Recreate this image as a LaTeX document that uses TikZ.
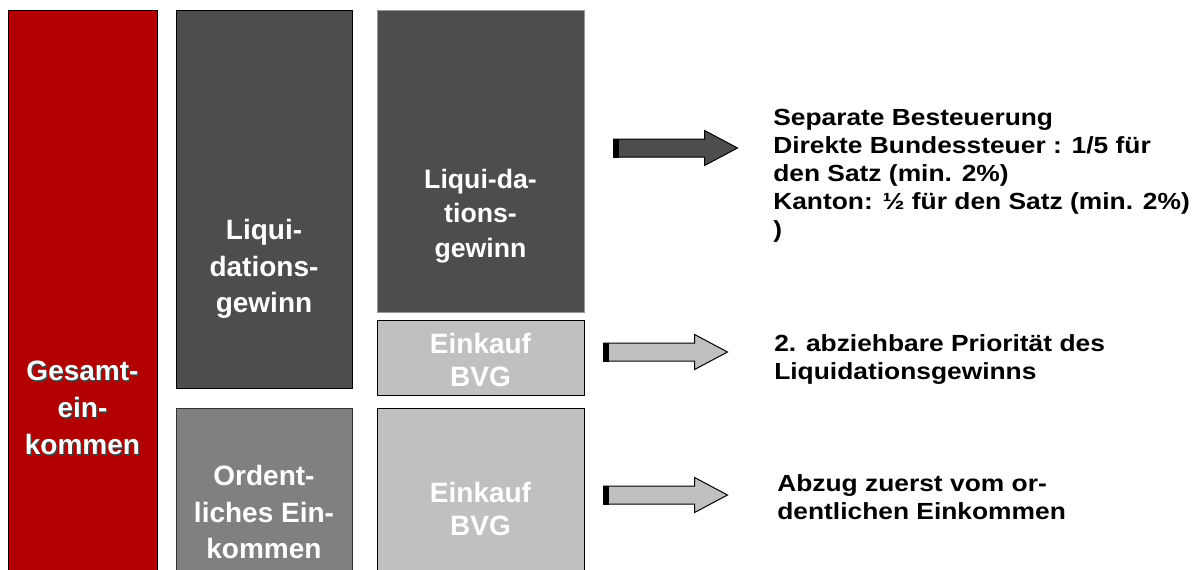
\documentclass[tikz,border=0pt]{standalone}
\usepackage{fontspec}
\setmainfont{Liberation Sans}
\newfontfamily\sidefont[FakeStretch=1.13]{Liberation Sans}
\usetikzlibrary{shapes.arrows}
\definecolor{gesamtred}{HTML}{B20000}
\definecolor{darkblock}{HTML}{4D4D4D}
\definecolor{midblock}{HTML}{808080}
\definecolor{lightblock}{HTML}{C0C0C0}

\begin{document}
\begin{tikzpicture}[x=0.75pt, y=-0.75pt,
    block/.style={rectangle, draw=black, line width=1pt, inner sep=0pt, anchor=north west},
    blocktext/.style={text=white, font=\bfseries\fontsize{21}{27.5}\selectfont, align=center},
    sidetext/.style={font=\sidefont\bfseries\fontsize{17.5}{21}\selectfont, align=left, anchor=north west, inner sep=0pt},
    blockarrow/.style={single arrow, draw=black, line width=0.75pt, inner xsep=0pt, inner ysep=6.375pt, anchor=tail,
      minimum height=93pt, single arrow head extend=6.375pt, single arrow tip angle=56}]

      \useasboundingbox (0,0) rectangle (1197,569);

      % columns
      \node[block, fill=gesamtred, minimum width=111.75pt, minimum height=427.5pt] (gesamt) at (8,10) {};
      \node[block, fill=darkblock, minimum width=132pt, minimum height=283.5pt] (liqA) at (176,10) {};
      \node[block, fill=midblock, draw=black!80, minimum width=132pt, minimum height=129pt] (ord) at (176,408) {};
      \node[block, fill=darkblock, draw=black!40, line width=0.75pt, minimum width=155.25pt, minimum height=226.5pt] (liqB) at (377,10) {};
      \node[block, fill=lightblock, minimum width=155.25pt, minimum height=56.25pt] (bvgA) at (377,320) {};
      \node[block, fill=lightblock, minimum width=155.25pt, minimum height=129pt] (bvgB) at (377,408) {};

      % labels in the columns
      \node[blocktext, text=black!75] at (84,410) {Gesamt-\\ein-\\kommen};
      \node[blocktext] (gesamttext) at (82.5,408) {Gesamt-\\ein-\\kommen};
      \node[blocktext] (liqAtext) at (264,269) {Liqui-\\dations-\\gewinn};
      \node[blocktext] (ordtext) at (264,512) {Ordent-\\liches Ein-\\kommen};
      \node[blocktext, font=\bfseries\fontsize{20}{26}\selectfont] (liqBtext) at (480.5,216) {Liqui-da-\\tions-\\gewinn};
      \node[blocktext, font=\bfseries\fontsize{21}{25}\selectfont] (bvgAtext) at (480.5,360) {Einkauf\\BVG};
      \node[blocktext, font=\bfseries\fontsize{21}{25}\selectfont] (bvgBtext) at (480.5,509) {Einkauf\\BVG};

      % arrows
      \node[blockarrow, fill=darkblock] (pfeilA) at (613,148) {};
      \node[blockarrow, fill=lightblock] (pfeilB) at (603,352) {};
      \node[blockarrow, fill=lightblock] (pfeilC) at (603,495) {};
      \foreach \p in {pfeilA, pfeilB, pfeilC}
        \fill (\p.before tail) rectangle ([xshift=4.5pt]\p.after tail);

      % notes
      \node[sidetext] (steuer) at (773,109) {Separate Besteuerung\\Direkte Bundessteuer : 1/5 für\\den Satz (min. 2\%)\\Kanton: ½ für den Satz (min. 2\%)\\)};
      \node[sidetext] (prioritaet) at (774,334) {2. abziehbare Priorität des\\Liquidationsgewinns};
      \node[sidetext] (abzug) at (777,474) {Abzug zuerst vom or-\\dentlichen Einkommen};
    \end{tikzpicture}
\end{document}
